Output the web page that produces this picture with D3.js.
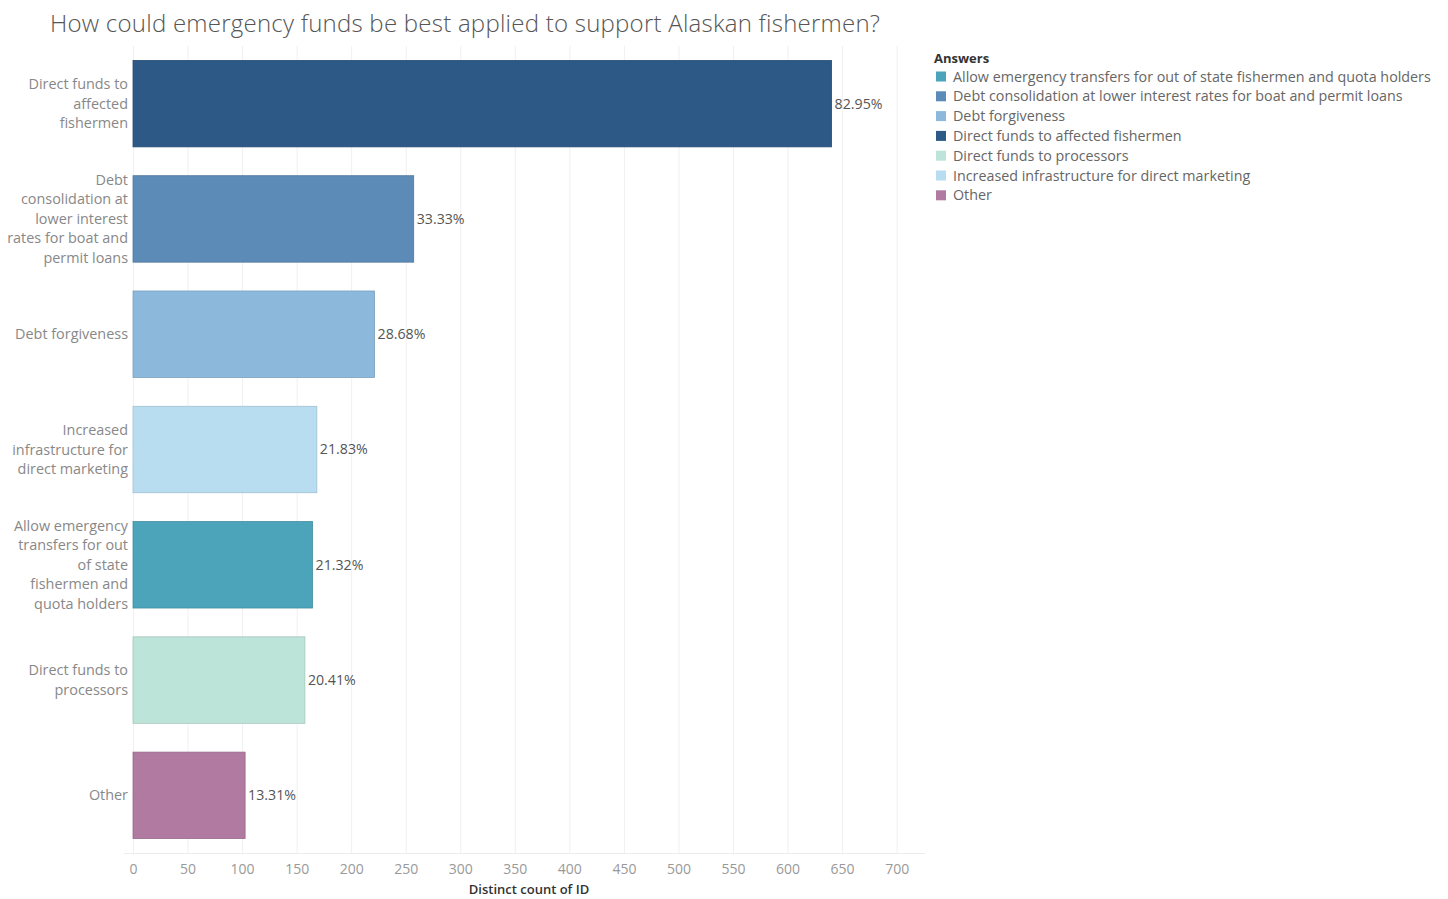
<!DOCTYPE html>
<html>
<head>
<meta charset="utf-8">
<script src="https://cdn.jsdelivr.net/npm/d3@7"></script>
<style>
  html, body { margin: 0; padding: 0; background: #fff; }
  svg { display: block; }
  text { font-family: "Open Sans", "Noto Sans", sans-serif; }
</style>
</head>
<body>
<svg id="chart" width="1448" height="899"></svg>
<script>
// Answers, in the order they are drawn (largest first)
const categories = [
  "Direct funds to affected fishermen",
  "Debt consolidation at lower interest rates for boat and permit loans",
  "Debt forgiveness",
  "Increased infrastructure for direct marketing",
  "Allow emergency transfers for out of state fishermen and quota holders",
  "Direct funds to processors",
  "Other"
];
// Wrapped axis labels for each answer
const categoryLines = [
  ["Direct funds to", "affected", "fishermen"],
  ["Debt", "consolidation at", "lower interest", "rates for boat and", "permit loans"],
  ["Debt forgiveness"],
  ["Increased", "infrastructure for", "direct marketing"],
  ["Allow emergency", "transfers for out", "of state", "fishermen and", "quota holders"],
  ["Direct funds to", "processors"],
  ["Other"]
];
// Share of respondents choosing each answer (%)
const percents = [82.95, 33.33, 28.68, 21.83, 21.32, 20.41, 13.31];
// Number of distinct respondents
const respondents = 772;
const xTicks = [0, 50, 100, 150, 200, 250, 300, 350, 400, 450, 500, 550, 600, 650, 700];
// Legend order (alphabetical)
const legendItems = [
  "Allow emergency transfers for out of state fishermen and quota holders",
  "Debt consolidation at lower interest rates for boat and permit loans",
  "Debt forgiveness",
  "Direct funds to affected fishermen",
  "Direct funds to processors",
  "Increased infrastructure for direct marketing",
  "Other"
];
const palette = ["#4ba4b9", "#5b8bb6", "#8cb8db", "#2c5986", "#bde4d8", "#b8ddf1", "#b07aa1"];

const svg = d3.select("#chart");
const color = d3.scaleOrdinal().domain(legendItems).range(palette);

const x = d3.scaleLinear().domain([0, 726]).range([133, 925]);
const y = d3.scaleBand().domain(categories).range([46, 853]).paddingInner(0.25).paddingOuter(0.125);

// Title
svg.append("text")
  .attr("x", 50).attr("y", 32)
  .attr("font-size", 24).attr("fill", "#555")
  .attr("font-weight", 300)
  .attr("letter-spacing", 0.24)
  .text("How could emergency funds be best applied to support Alaskan fishermen?");

// Vertical gridlines
svg.append("g").selectAll("line").data(xTicks).join("line")
  .attr("x1", d => x(d) + 0.5).attr("x2", d => x(d) + 0.5)
  .attr("y1", 46).attr("y2", 853)
  .attr("stroke", "#f0f0f0").attr("stroke-width", 1);

// Baseline
svg.append("line")
  .attr("x1", 124).attr("x2", 925).attr("y1", 853.5).attr("y2", 853.5)
  .attr("stroke", "#ececec");

// Bars
const data = categories.map((c, i) => ({ cat: c, pct: percents[i], count: percents[i] / 100 * respondents }));
svg.append("g").selectAll("rect").data(data).join("rect")
  .attr("x", x(0))
  .attr("y", d => y(d.cat))
  .attr("width", d => x(d.count) - x(0))
  .attr("height", y.bandwidth())
  .attr("fill", d => color(d.cat))
  .attr("stroke", d => d3.color(color(d.cat)).darker(0.4))
  .attr("stroke-width", 0.8);

// Value labels
svg.append("g").selectAll("text").data(data).join("text")
  .attr("x", d => x(d.count) + 3)
  .attr("y", d => y(d.cat) + y.bandwidth() / 2)
  .attr("dy", "0.35em")
  .attr("font-size", 14.2).attr("fill", "#555")
  .text(d => d.pct.toFixed(2) + "%");

// Category labels (wrapped)
const lineH = 19.5;
const catG = svg.append("g");
categories.forEach((c, i) => {
  const lines = categoryLines[i];
  const cy = y(c) + y.bandwidth() / 2;
  const t = catG.append("text")
    .attr("text-anchor", "end")
    .attr("font-size", 14.4).attr("fill", "#888");
  lines.forEach((ln, j) => {
    t.append("tspan")
      .attr("x", 128)
      .attr("y", cy + (j - (lines.length - 1) / 2) * lineH)
      .attr("dy", "0.35em")
      .text(ln);
  });
});

// X axis
const xAxis = d3.axisBottom(x).tickValues(xTicks).tickSize(0).tickPadding(6);
const axG = svg.append("g").attr("transform", "translate(0,858)").call(xAxis);
axG.select(".domain").remove();
axG.selectAll("text")
  .attr("font-size", 14).attr("fill", "#999")
  .attr("font-family", "\"Open Sans\", \"Noto Sans\", sans-serif");

svg.append("text")
  .attr("x", 529).attr("y", 894)
  .attr("text-anchor", "middle")
  .attr("font-size", 13).attr("font-weight", 600).attr("fill", "#333")
  .text("Distinct count of ID");

// Legend
const lg = svg.append("g").attr("transform", "translate(934,0)");
lg.append("text").attr("x", 0).attr("y", 63)
  .attr("font-size", 13).attr("font-weight", 700).attr("fill", "#333")
  .text("Answers");
const items = lg.selectAll("g.item").data(legendItems).join("g")
  .attr("class", "item")
  .attr("transform", (d, i) => `translate(0,${76.5 + i * 19.8})`);
items.append("rect")
  .attr("x", 2).attr("y", -5).attr("width", 10).attr("height", 10)
  .attr("fill", d => color(d));
items.append("text")
  .attr("x", 19).attr("dy", "0.35em")
  .attr("font-size", 14.3).attr("fill", "#666")
  .text(d => d);
</script>
</body>
</html>
